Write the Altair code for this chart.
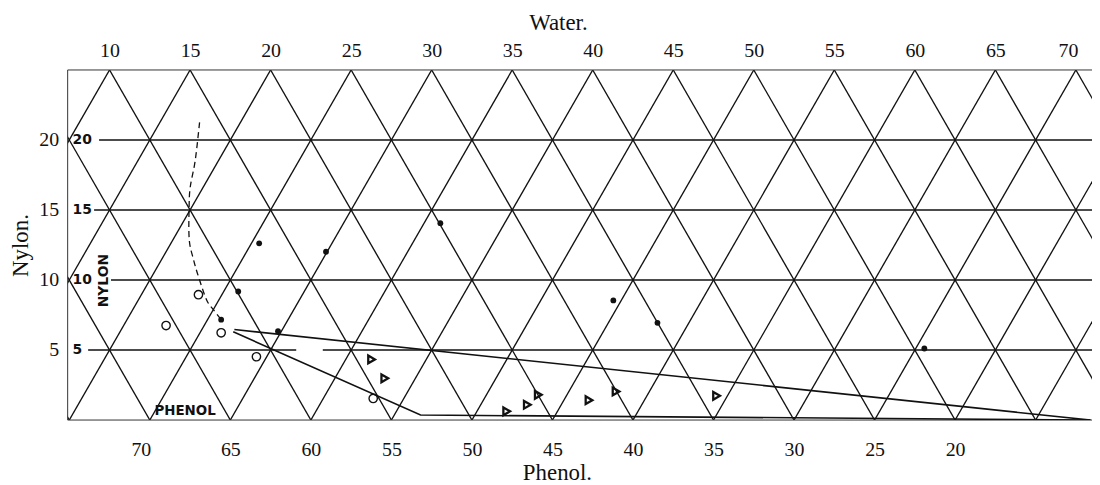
import altair as alt
import pandas as pd

# ---------------- axis ticks ----------------
WATER_TICKS = [10, 15, 20, 25, 30, 35, 40, 45, 50, 55, 60, 65, 70]
PHENOL_TICKS = [70, 65, 60, 55, 50, 45, 40, 35, 30, 25, 20]
NYLON_TICKS = [5, 10, 15, 20]
PHENOL_OFFSET = 82.5          # Phenol P sits at Water-axis position 82.5 - P

X_DOMAIN = [7.4, 71.0]
Y_DOMAIN = [0, 25]

# ---------------- triangular grid ----------------
GRID_UP_STARTS = [-2.5, 2.5, 7.5, 12.5, 17.5, 22.5, 27.5, 32.5, 37.5, 42.5, 47.5, 52.5, 57.5, 62.5, 67.5]
GRID_DOWN_STARTS = [7.5, 12.5, 17.5, 22.5, 27.5, 32.5, 37.5, 42.5, 47.5, 52.5, 57.5, 62.5, 67.5, 72.5, 77.5, 82.5]
ROW_N = [5, 5, 10, 15, 20]
ROW_FROM = [8.67, 23.24, 10.09, 9.04, 9.35]
ROW_TO = [21.59, 71.0, 71.0, 71.0, 71.0]

# ---------------- data (Water-axis position, Nylon) ----------------
dots_w = [19.29, 23.44, 30.54, 17.99, 16.93, 20.46, 41.28, 44.02, 60.59]
dots_n = [12.62, 12.02, 14.06, 9.18, 7.17, 6.34, 8.54, 6.94, 5.11]

circ_w = [13.51, 15.52, 16.93, 19.12, 26.37]
circ_n = [6.75, 8.95, 6.23, 4.52, 1.54]

tri_w = [26.27, 27.09, 34.66, 35.94, 36.62, 39.77, 41.45, 47.69]
tri_n = [4.33, 2.98, 0.62, 1.09, 1.80, 1.42, 2.04, 1.73]

upper_w = [17.75, 70.9]
upper_n = [6.46, 0.0]
lower_w = [17.68, 29.31, 70.9]
lower_n = [6.30, 0.36, 0.0]

dash_w = [15.59, 15.32, 15.01, 14.94, 14.95, 15.22, 15.52, 16.02, 16.45, 16.93]
dash_n = [21.26, 18.54, 16.64, 15.18, 12.86, 11.43, 10.25, 8.59, 7.88, 7.17]

inner_text = ["20", "15", "10", "5"]
inner_n = [20, 15, 10, 5]

# ---------------- tables ----------------
diag = pd.DataFrame(
    [{"x": c, "y": 0, "x2": c + 12.5, "y2": 25} for c in GRID_UP_STARTS]
    + [{"x": c, "y": 0, "x2": c - 12.5, "y2": 25} for c in GRID_DOWN_STARTS]
)
rows = pd.DataFrame({"x": ROW_FROM, "x2": ROW_TO, "y": ROW_N, "y2": ROW_N})
frame = pd.DataFrame({
    "x": [X_DOMAIN[0], X_DOMAIN[0], X_DOMAIN[0]],
    "x2": [X_DOMAIN[1], X_DOMAIN[0], X_DOMAIN[1]],
    "y": [Y_DOMAIN[1], Y_DOMAIN[0], Y_DOMAIN[0]],
    "y2": [Y_DOMAIN[1], Y_DOMAIN[1], Y_DOMAIN[0]],
})
lines = pd.DataFrame(
    [{"line": "upper", "idx": i, "w": w, "n": n} for i, (w, n) in enumerate(zip(upper_w, upper_n))]
    + [{"line": "lower", "idx": i, "w": w, "n": n} for i, (w, n) in enumerate(zip(lower_w, lower_n))]
)
dash = pd.DataFrame({"idx": list(range(len(dash_w))), "w": dash_w, "n": dash_n})
dots = pd.DataFrame({"w": dots_w, "n": dots_n})
circ = pd.DataFrame({"w": circ_w, "n": circ_n})
tri = pd.DataFrame({"w": tri_w, "n": tri_n})
inner = pd.DataFrame({"t": inner_text, "n": inner_n, "w": [7.7] * 4})
nylon_lbl = pd.DataFrame({"t": ["NYLON"], "w": [9.68], "n": [9.96]})
phenol_lbl = pd.DataFrame({"t": ["PHENOL"], "w": [14.69], "n": [0.62]})

xs = alt.Scale(domain=X_DOMAIN, nice=False, zero=False)
ys = alt.Scale(domain=Y_DOMAIN, nice=False, zero=False)

SERIF = "Liberation Serif"
INK = "#111111"

top_axis = alt.Axis(orient="top", values=WATER_TICKS, title="Water.", labelPadding=10,
                    labelOffset={"condition": {"test": "datum.value == 70", "value": -8},
                                 "value": 0},
                    labelOverlap=False, titleX=493, titleY=-48, titleAlign="center",
                    titleBaseline="middle")
bottom_axis = alt.Axis(orient="bottom", values=[PHENOL_OFFSET - p for p in PHENOL_TICKS],
                       labelExpr="format(82.5 - datum.value, 'd')", title="Phenol.",
                       labelOffset={"condition": {"test": "datum.value == 12.5", "value": -9},
                                    "value": 0},
                       labelPadding=20, labelOverlap=False, titleX=492, titleY=53,
                       titleAlign="center", titleBaseline="middle")
left_axis = alt.Axis(orient="left", values=NYLON_TICKS, title="Nylon.", labelPadding=9,
                     labelOverlap=False, titleX=-47, titleY=176, titleAngle=270,
                     titleAlign="center", titleBaseline="middle")


def X(field, axis=None):
    return alt.X(field, type="quantitative", scale=xs, axis=axis)


def Y(field, axis=None):
    return alt.Y(field, type="quantitative", scale=ys, axis=axis)


grid_diag = alt.Chart(diag).mark_rule(clip=True, color=INK, strokeWidth=1.35).encode(
    x=X("x", top_axis), y=Y("y", left_axis), x2="x2:Q", y2="y2:Q")

grid_rows = alt.Chart(rows).mark_rule(clip=True, color=INK, strokeWidth=1.7).encode(
    x=X("x", bottom_axis), y=Y("y"), x2="x2:Q", y2="y2:Q")

frame_l = alt.Chart(frame).mark_rule(color="#333333", strokeWidth=1).encode(
    x=X("x"), y=Y("y"), x2="x2:Q", y2="y2:Q")

bound_lines = alt.Chart(lines).mark_line(color=INK, strokeWidth=1.6, clip=True).encode(
    x=X("w"), y=Y("n"), detail="line:N", order="idx:Q")

dash_line = alt.Chart(dash).mark_line(color=INK, strokeWidth=1.3, strokeDash=[6, 4],
                                      interpolate="cardinal").encode(
    x=X("w"), y=Y("n"), order="idx:Q")

dots_l = alt.Chart(dots).mark_point(filled=True, shape="circle", size=34, color=INK,
                                    opacity=1).encode(x=X("w"), y=Y("n"))

circ_l = alt.Chart(circ).mark_point(filled=False, shape="circle", size=70, color=INK,
                                    strokeWidth=1.4, opacity=1).encode(x=X("w"), y=Y("n"))

tri_l = alt.Chart(tri).mark_point(filled=False, shape="triangle-right", size=60, color=INK,
                                  strokeWidth=2.3, opacity=1).encode(x=X("w"), y=Y("n"))

inner_l = alt.Chart(inner).mark_text(font="DejaVu Sans", fontWeight="bold", fontSize=14,
                                     align="left", baseline="middle", color=INK).encode(
    x=X("w"), y=Y("n"), text="t:N")

nylon_l = alt.Chart(nylon_lbl).mark_text(font="DejaVu Sans", fontWeight="bold", fontSize=14,
                                         align="center", baseline="middle", angle=270,
                                         color=INK).encode(x=X("w"), y=Y("n"), text="t:N")

phenol_l = alt.Chart(phenol_lbl).mark_text(font="DejaVu Sans", fontWeight="bold", fontSize=13.5,
                                           align="center", baseline="middle",
                                           color=INK).encode(x=X("w"), y=Y("n"), text="t:N")

chart = alt.layer(
    grid_diag, grid_rows, frame_l, bound_lines, dash_line, dots_l, circ_l, tri_l,
    inner_l, nylon_l, phenol_l
).resolve_axis(x="independent", y="independent").properties(
    width=1030, height=352,
    background="white",
    autosize=alt.AutoSizeParams(type="none"),
    padding={"left": 60, "top": 61, "right": 0, "bottom": 64},
).configure_axis(
    labelFont=SERIF, labelFontSize=20, labelColor=INK,
    titleFont=SERIF, titleFontSize=23, titleFontWeight="normal", titleColor=INK,
    domain=False, ticks=False, tickSize=0, grid=False,
).configure_view(strokeWidth=0)

chart.save("out.html", embed_options={"renderer": "svg", "actions": False})
